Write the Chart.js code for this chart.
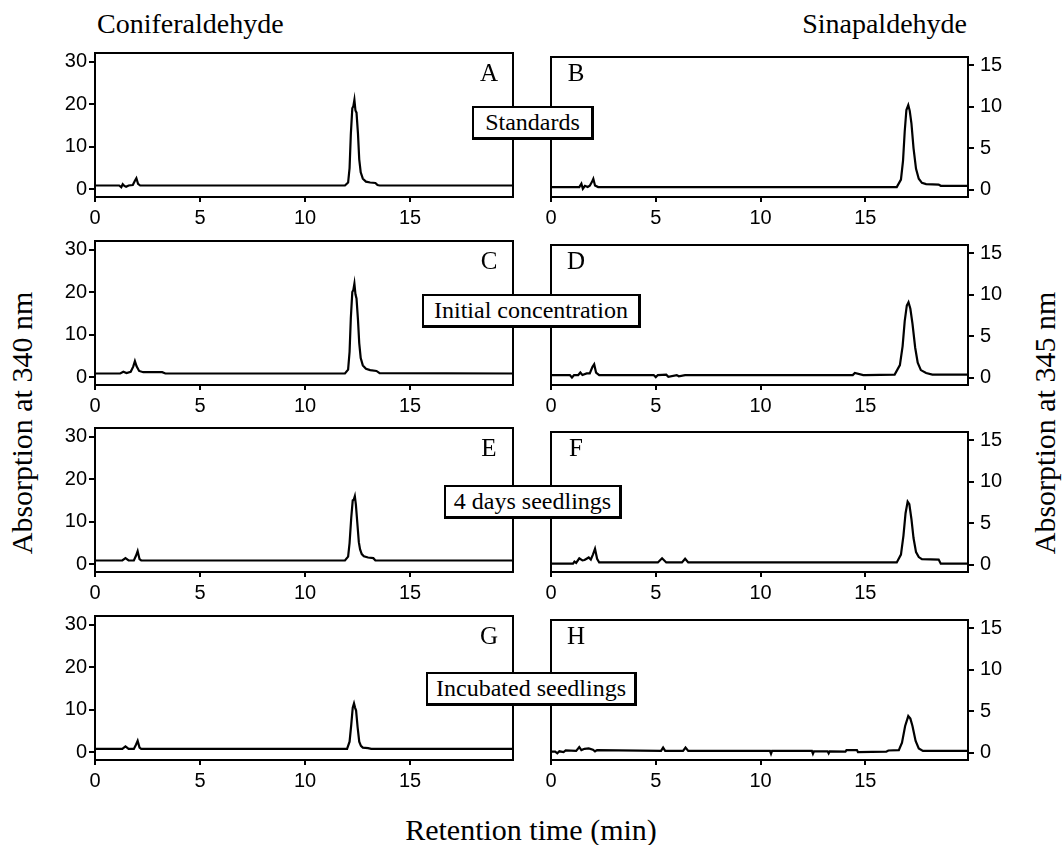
<!DOCTYPE html>
<html>
<head>
<meta charset="utf-8">
<script src="https://cdn.jsdelivr.net/npm/chart.js@4"></script>
<style>
  body { margin: 0; background: #fff; }
  #page { position: relative; width: 1063px; height: 845px; overflow: hidden; font-family: "Liberation Serif", serif; color: #000; }
  canvas { position: absolute; }
  .txt { position: absolute; white-space: nowrap; font-size: 28px; }
  .vert { position: absolute; white-space: nowrap; font-size: 30px; transform: translate(-50%, -50%) rotate(-90deg); }
  .tag { position: absolute; box-sizing: border-box; border: 2px solid #000; border-right-width: 3px; border-bottom-width: 3px;
         background: #fff; font-size: 24px; display: flex; align-items: center; justify-content: center; white-space: nowrap; }
  .letter { position: absolute; font-size: 25px; transform: translate(-50%, -50%); }
</style>
</head>
<body>
<div id="page">
  <div class="txt" style="left:97px; top:8px;">Coniferaldehyde</div>
  <div class="txt" style="right:96px; top:8px;">Sinapaldehyde</div>
  <div class="txt" style="left:531px; top:830px; font-size:30px; transform:translate(-50%,-50%);">Retention time (min)</div>
  <div class="vert" style="left:22px; top:423px;">Absorption at 340 nm</div>
  <div class="vert" style="left:1045px; top:423px;">Absorption at 345 nm</div>
</div>
<script>
// tick labels
const xTicks = [0, 5, 10, 15];
const leftTicks = [0, 10, 20, 30];
const rightTicks = [0, 5, 10, 15];

// coniferaldehyde, 340 nm
const timeA = [0, 1.15, 1.25, 1.32, 1.4, 1.48, 1.6, 1.8, 1.9, 1.97, 2.05, 2.15,
  11.9, 12.05, 12.12, 12.18, 12.25, 12.3, 12.35, 12.4, 12.45, 12.52, 12.58, 12.65, 12.75, 12.9, 13.1, 13.35, 13.45, 13.55, 19.9];
const absA = [0.9, 0.9, 0.5, 1.2, 0.8, 0.6, 0.9, 1.0, 2.0, 2.6, 1.3, 0.9,
  0.9, 1.6, 5, 13, 19, 19.5, 21, 18.5, 18, 13, 7, 4, 2.5, 1.8, 1.6, 1.5, 1.0, 0.9, 0.9];

const timeC = [0, 1.2, 1.35, 1.5, 1.7, 1.82, 1.9, 1.98, 2.1, 2.3, 3.2, 3.35,
  11.9, 12.05, 12.12, 12.18, 12.25, 12.3, 12.35, 12.4, 12.45, 12.52, 12.58, 12.65, 12.75, 12.9, 13.1, 13.4, 13.55, 19.9];
const absC = [0.9, 0.9, 1.3, 1.0, 1.3, 2.5, 3.8, 2.6, 1.5, 1.2, 1.2, 0.9,
  0.9, 1.8, 6, 14, 20, 20.5, 22, 19.5, 18.5, 13.5, 8, 4.5, 2.8, 2.0, 1.7, 1.5, 1.0, 0.9];

const timeE = [0, 1.3, 1.45, 1.6, 1.85, 1.95, 2.03, 2.12, 2.2,
  11.9, 12.05, 12.12, 12.2, 12.27, 12.32, 12.37, 12.42, 12.5, 12.56, 12.62, 12.7, 12.8, 13.0, 13.25, 13.35, 19.9];
const absE = [0.9, 0.9, 1.45, 0.9, 0.9, 2.0, 3.1, 1.2, 0.9,
  0.9, 1.8, 5, 11, 15, 15.2, 16, 14, 9, 5.2, 3.5, 2.4, 1.9, 1.6, 1.45, 0.9, 0.9];

const timeG = [0, 1.3, 1.45, 1.6, 1.85, 1.95, 2.03, 2.12, 2.2,
  12.0, 12.12, 12.2, 12.27, 12.33, 12.38, 12.43, 12.5, 12.58, 12.66, 12.75, 13.0, 13.15, 19.9];
const absG = [0.8, 0.8, 1.4, 0.8, 0.8, 1.8, 2.7, 1.1, 0.8,
  0.8, 2.5, 6.5, 10.5, 11.5, 10.5, 9.8, 6, 2.5, 1.5, 1.1, 1.0, 0.8, 0.8];

// sinapaldehyde, 345 nm
const timeB = [0, 1.35, 1.45, 1.52, 1.62, 1.75, 1.85, 1.95, 2.02, 2.1, 2.25,
  16.5, 16.7, 16.8, 16.88, 16.96, 17.05, 17.12, 17.2, 17.3, 17.42, 17.55, 17.7, 17.9, 18.5, 18.6, 19.9];
const absB = [0.3, 0.3, 0.7, 0.1, 0.45, 0.3, 0.45, 0.9, 1.3, 0.5, 0.3,
  0.3, 1.2, 3.5, 7, 9.6, 10.2, 9.5, 8, 5, 2.5, 1.3, 0.8, 0.65, 0.6, 0.45, 0.45];

const timeD = [0, 0.9, 1.0, 1.1, 1.3, 1.4, 1.5, 1.7, 1.85, 1.98, 2.06, 2.15, 2.3,
  4.9, 5.0, 5.1, 5.5, 5.6, 6.0, 6.1, 6.4, 6.5, 14.4, 14.5, 14.9, 15.0,
  16.4, 16.65, 16.78, 16.88, 16.98, 17.06, 17.15, 17.25, 17.38, 17.5, 17.65, 17.9, 18.2, 19.9];
const absD = [0.3, 0.3, 0.0, 0.3, 0.3, 0.6, 0.3, 0.5, 0.5, 1.3, 1.6, 0.6, 0.3,
  0.3, 0.05, 0.3, 0.35, 0.1, 0.3, 0.15, 0.3, 0.3, 0.3, 0.55, 0.3, 0.3,
  0.35, 1.5, 3.8, 6.8, 8.7, 9.1, 8.3, 6.5, 3.6, 1.8, 0.9, 0.55, 0.35, 0.35];

const timeF = [0, 1.05, 1.12, 1.2, 1.35, 1.5, 1.6, 1.8, 1.9, 2.0, 2.1, 2.2, 2.3,
  5.1, 5.3, 5.5, 6.25, 6.4, 6.55,
  16.5, 16.7, 16.82, 16.92, 17.02, 17.1, 17.2, 17.3, 17.42, 17.55, 17.7, 18.5, 18.6, 19.9];
const absF = [0.1, 0.1, 0.35, 0.2, 0.75, 0.5, 0.55, 0.85, 0.6, 1.2, 1.9, 0.7, 0.25,
  0.25, 0.75, 0.25, 0.25, 0.7, 0.25,
  0.25, 1.2, 3.5, 6.2, 7.6, 7.3, 5.5, 3.2, 1.5, 0.9, 0.65, 0.6, 0.1, 0.1];

const timeH = [0, 0.2, 0.3, 0.4, 0.6, 0.7, 1.2, 1.35, 1.45, 1.6, 1.8, 2.0, 2.1, 2.2,
  5.25, 5.35, 5.45, 6.3, 6.42, 6.55, 10.45, 10.5, 10.55, 12.45, 12.5, 12.55, 13.2, 13.25, 13.3,
  14.05, 14.1, 14.6, 14.65, 16.0, 16.1, 16.6, 16.75, 16.9, 17.05, 17.15, 17.25, 17.4, 17.55, 17.75, 19.9];
const absH = [0.1, 0.1, -0.1, 0.15, 0.05, 0.25, 0.2, 0.65, 0.3, 0.45, 0.5, 0.35, 0.15, 0.3,
  0.2, 0.6, 0.2, 0.2, 0.6, 0.2, 0.2, -0.15, 0.2, 0.2, -0.15, 0.15, 0.15, -0.1, 0.15,
  0.1, 0.3, 0.3, 0.05, 0.1, 0.25, 0.3, 1.2, 3.2, 4.4, 4.1, 3.2, 1.4, 0.5, 0.2, 0.2];

const sampleNames = ["Standards", "Initial concentration", "4 days seedlings", "Incubated seedlings"];

const panels = [
  {time: timeA, abs: absA, side: "left", row: 0, letter: "A"},
  {time: timeB, abs: absB, side: "right", row: 0, letter: "B"},
  {time: timeC, abs: absC, side: "left", row: 1, letter: "C"},
  {time: timeD, abs: absD, side: "right", row: 1, letter: "D"},
  {time: timeE, abs: absE, side: "left", row: 2, letter: "E"},
  {time: timeF, abs: absF, side: "right", row: 2, letter: "F"},
  {time: timeG, abs: absG, side: "left", row: 3, letter: "G"},
  {time: timeH, abs: absH, side: "right", row: 3, letter: "H"},
];

const rowTops = [49, 237, 424, 612];
const tagBoxes = [[472, 57, 122], [422, 57, 219], [444, 61, 178], [426, 60, 211]];
const page = document.getElementById("page");

// closed box round each plot
const frame = {
  id: "frame",
  afterDatasetsDraw(chart) {
    const a = chart.chartArea, ctx = chart.ctx;
    ctx.save();
    ctx.strokeStyle = "#000";
    ctx.lineWidth = 2;
    ctx.strokeRect(a.left, a.top, a.right - a.left, a.bottom - a.top);
    ctx.restore();
  }
};

const tickFont = {family: "Liberation Sans", size: 20};

function drawPanel(p) {
  const left = p.side === "left";
  const top = rowTops[p.row];
  const canvas = document.createElement("canvas");
  canvas.width = left ? 480 : 483;
  canvas.height = 193;
  canvas.style.left = (left ? 40 : 540) + "px";
  canvas.style.top = (top - 10) + "px";
  page.appendChild(canvas);

  const yTicks = left ? leftTicks : rightTicks;
  new Chart(canvas, {
    type: "line",
    data: {
      datasets: [{
        data: p.time.map((t, i) => ({x: t, y: p.abs[i]})),
        borderColor: "#000",
        borderWidth: 2.2,
        pointRadius: 0,
        tension: 0,
        fill: false
      }]
    },
    options: {
      responsive: false,
      animation: false,
      devicePixelRatio: 1,
      layout: {padding: {top: 10, bottom: 0, left: left ? 0 : 11, right: left ? 7 : 0}},
      plugins: {legend: {display: false}, tooltip: {enabled: false}},
      scales: {
        x: {
          type: "linear",
          min: 0,
          max: 19.9,
          afterBuildTicks: s => { s.ticks = xTicks.map(v => ({value: v})); },
          afterFit: s => { s.height = 35; },
          grid: {drawOnChartArea: false, tickLength: 5, color: "#000", lineWidth: 2},
          border: {color: "#000", width: 2},
          ticks: {font: tickFont, color: "#000", padding: 4, maxRotation: 0, autoSkip: false}
        },
        y: {
          type: "linear",
          position: p.side,
          min: left ? -1.8 : -0.9,
          max: left ? 32 : 16,
          afterBuildTicks: s => { s.ticks = yTicks.map(v => ({value: v})); },
          afterFit: s => { s.width = 55; },
          grid: {drawOnChartArea: false, tickLength: 6, color: "#000", lineWidth: 2},
          border: {color: "#000", width: 2},
          ticks: {font: tickFont, color: "#000", padding: left ? 2 : 6}
        }
      }
    },
    plugins: [frame]
  });

  const letter = document.createElement("div");
  letter.className = "letter";
  letter.textContent = p.letter;
  letter.style.left = (left ? 489 : 576) + "px";
  letter.style.top = (top + 24) + "px";
  page.appendChild(letter);
}

panels.forEach(drawPanel);

sampleNames.forEach((name, i) => {
  const [x, dy, w] = tagBoxes[i];
  const tag = document.createElement("div");
  tag.className = "tag";
  tag.textContent = name;
  tag.style.left = x + "px";
  tag.style.top = (rowTops[i] + dy) + "px";
  tag.style.width = w + "px";
  tag.style.height = "34px";
  page.appendChild(tag);
});
</script>
</body>
</html>
